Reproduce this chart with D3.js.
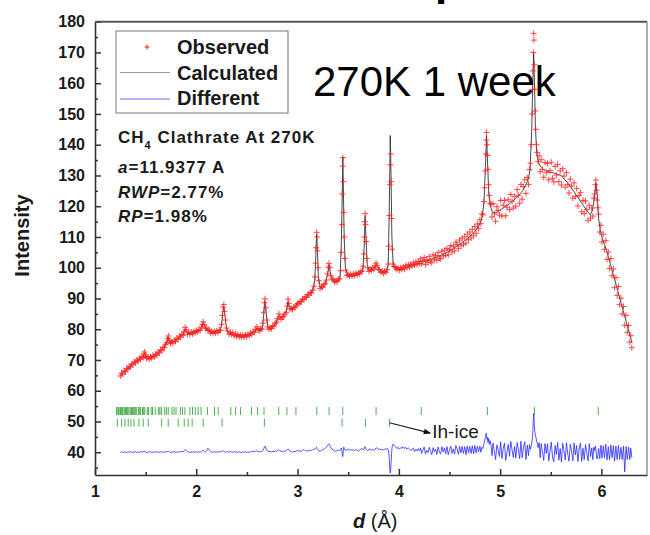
<!DOCTYPE html>
<html>
<head>
<meta charset="utf-8">
<script src="https://cdn.jsdelivr.net/npm/d3@7"></script>
<style>
  body { margin: 0; background: #fff; }
  svg { display: block; font-family: Arial, "Liberation Sans", sans-serif; }
</style>
</head>
<body>
<svg id="chart" width="650" height="535"></svg>
<script>
// measured points: d spacing (Angstrom)
var obsD = [
  1.250,1.263,1.275,1.288,1.300,1.313,1.325,1.338,1.350,1.363,
  1.375,1.388,1.400,1.413,1.425,1.438,1.450,1.463,1.475,1.483,
  1.490,1.498,1.510,1.523,1.535,1.548,1.560,1.573,1.585,1.598,
  1.610,1.623,1.635,1.648,1.660,1.673,1.685,1.698,1.710,1.718,
  1.725,1.733,1.745,1.758,1.770,1.783,1.795,1.808,1.820,1.833,
  1.845,1.858,1.870,1.880,1.890,1.900,1.913,1.925,1.938,1.950,
  1.963,1.975,1.988,2.000,2.013,2.025,2.038,2.050,2.060,2.068,
  2.078,2.090,2.103,2.115,2.128,2.140,2.153,2.165,2.178,2.190,
  2.203,2.215,2.228,2.240,2.250,2.258,2.265,2.272,2.279,2.288,
  2.298,2.310,2.323,2.335,2.348,2.360,2.373,2.385,2.398,2.410,
  2.423,2.435,2.448,2.460,2.473,2.485,2.498,2.510,2.523,2.535,
  2.548,2.560,2.573,2.585,2.598,2.610,2.623,2.635,2.648,2.658,
  2.666,2.673,2.679,2.686,2.695,2.705,2.718,2.730,2.743,2.755,
  2.768,2.780,2.793,2.805,2.815,2.825,2.838,2.850,2.863,2.875,
  2.888,2.898,2.906,2.914,2.925,2.938,2.950,2.963,2.975,2.988,
  3.000,3.013,3.025,3.038,3.050,3.063,3.075,3.088,3.100,3.113,
  3.125,3.138,3.150,3.163,3.172,3.178,3.183,3.188,3.192,3.197,
  3.202,3.210,3.222,3.235,3.248,3.260,3.273,3.285,3.295,3.303,
  3.310,3.318,3.328,3.340,3.353,3.365,3.378,3.390,3.403,3.415,
  3.425,3.432,3.437,3.441,3.445,3.448,3.452,3.456,3.461,3.467,
  3.475,3.488,3.500,3.513,3.525,3.538,3.550,3.563,3.575,3.588,
  3.600,3.613,3.625,3.638,3.648,3.655,3.660,3.664,3.668,3.672,
  3.677,3.683,3.692,3.705,3.718,3.730,3.743,3.755,3.765,3.775,
  3.785,3.798,3.810,3.823,3.835,3.848,3.860,3.873,3.885,3.895,
  3.902,3.907,3.911,3.915,3.919,3.923,3.928,3.934,3.942,3.955,
  3.968,3.980,3.993,4.005,4.018,4.030,4.043,4.055,4.068,4.080,
  4.093,4.105,4.118,4.130,4.143,4.155,4.168,4.180,4.193,4.205,
  4.215,4.225,4.238,4.250,4.263,4.275,4.288,4.300,4.313,4.325,
  4.338,4.350,4.363,4.375,4.388,4.400,4.413,4.425,4.438,4.450,
  4.463,4.475,4.488,4.500,4.513,4.525,4.538,4.550,4.563,4.575,
  4.588,4.600,4.613,4.625,4.638,4.650,4.663,4.675,4.688,4.700,
  4.713,4.725,4.738,4.750,4.763,4.775,4.788,4.800,4.810,4.820,
  4.830,4.840,4.847,4.853,4.858,4.862,4.866,4.870,4.875,4.880,
  4.886,4.893,4.900,4.910,4.920,4.930,4.943,4.955,4.968,4.980,
  4.993,5.005,5.018,5.030,5.043,5.055,5.068,5.080,5.093,5.105,
  5.118,5.130,5.143,5.155,5.168,5.180,5.193,5.205,5.218,5.230,
  5.243,5.255,5.268,5.280,5.290,5.300,5.308,5.315,5.320,5.324,
  5.328,5.331,5.334,5.337,5.341,5.346,5.352,5.358,5.366,5.375,
  5.385,5.395,5.405,5.418,5.430,5.443,5.455,5.468,5.480,5.493,
  5.505,5.518,5.530,5.543,5.555,5.568,5.580,5.593,5.605,5.618,
  5.630,5.643,5.655,5.668,5.680,5.693,5.705,5.718,5.730,5.743,
  5.755,5.768,5.780,5.793,5.805,5.818,5.830,5.843,5.855,5.868,
  5.880,5.893,5.905,5.915,5.925,5.933,5.940,5.946,5.952,5.958,
  5.965,5.973,5.983,5.995,6.005,6.018,6.030,6.043,6.055,6.068,
  6.080,6.093,6.105,6.118,6.130,6.143,6.155,6.168,6.180,6.193,
  6.205,6.218,6.230,6.243,6.255,6.268,6.280,6.290,6.300
];

var observed = [
  64.8,65.7,65.4,66.5,66.2,67.3,67.0,68.0,67.7,68.7,
  68.4,69.4,69.1,70.0,69.6,70.6,70.2,71.1,70.8,72.0,
  72.6,71.6,70.5,71.0,70.3,71.1,70.6,71.5,71.0,71.9,
  71.5,72.6,72.3,73.3,73.0,74.2,74.0,75.1,75.6,77.0,
  77.8,76.4,75.4,76.0,75.5,76.5,76.0,77.0,76.7,77.8,
  77.4,78.4,78.0,79.3,80.6,79.8,78.4,79.0,78.3,79.1,
  78.5,79.3,78.8,79.6,79.1,79.9,79.6,80.7,81.6,82.4,
  81.5,80.2,80.4,79.6,79.9,78.7,79.3,78.7,79.4,78.8,
  79.5,78.9,79.8,79.6,81.6,84.5,87.2,88.0,85.8,83.0,
  80.4,79.4,78.4,79.0,78.3,78.9,77.9,78.5,77.7,78.3,
  77.5,78.2,77.4,78.1,77.5,78.2,77.6,78.4,77.9,78.8,
  78.3,79.2,79.0,80.0,80.8,79.8,79.5,80.2,80.0,82.0,
  85.5,88.6,89.9,87.0,83.0,80.8,80.0,80.5,80.2,81.1,
  81.0,82.0,82.3,83.5,85.0,84.0,83.2,84.0,84.1,84.9,
  85.5,87.5,89.8,88.4,86.6,86.8,86.4,87.2,87.0,87.9,
  88.4,88.2,89.1,88.9,89.8,89.6,90.6,90.4,91.3,91.1,
  92.0,91.8,92.7,94.0,97.0,101.5,106.5,111.5,110.0,105.5,
  100.0,95.8,93.2,93.9,93.6,94.6,94.8,96.0,98.0,100.2,
  101.4,100.0,97.5,96.3,96.0,95.4,95.8,95.4,96.3,96.4,
  99.0,105.0,114.0,124.0,133.0,135.8,128.0,118.0,110.0,103.0,
  99.2,97.5,97.8,97.2,97.9,97.3,98.0,97.5,98.2,97.7,
  98.4,98.0,98.8,98.9,100.5,104.5,110.0,115.0,117.6,114.0,
  108.5,103.0,100.0,98.8,99.5,99.1,100.0,99.6,100.6,101.5,
  100.8,99.4,99.3,98.5,98.9,98.2,98.8,98.5,99.4,101.2,
  107.0,117.0,127.0,133.5,137.0,128.0,116.0,106.0,101.2,100.4,
  100.0,99.4,99.9,99.2,100.0,99.4,100.3,99.6,100.7,100.0,
  101.0,100.2,101.2,100.5,101.6,100.8,101.9,101.0,102.1,101.4,
  102.9,101.2,102.4,103.3,101.1,102.6,101.7,103.6,102.2,101.6,
  104.2,102.8,104.0,102.4,104.9,103.1,102.9,105.4,103.8,105.7,
  104.0,106.3,104.2,105.9,107.2,105.1,107.0,105.5,108.3,107.6,
  106.2,109.0,107.1,109.6,107.6,110.1,108.0,110.9,109.1,111.6,
  109.7,112.5,110.4,113.4,111.2,114.2,112.7,115.6,114.3,117.5,
  117.2,121.5,126.0,131.5,137.0,141.5,144.0,140.0,136.5,132.0,
  127.0,123.5,121.0,120.7,116.5,120.8,117.5,115.1,119.8,118.6,
  117.1,121.9,116.8,120.3,121.9,116.9,119.7,122.1,118.9,123.8,
  121.6,119.4,123.2,120.0,125.4,123.6,121.0,127.0,122.3,126.4,
  128.6,124.2,129.3,127.1,131.9,134.0,140.0,150.0,158.0,164.0,
  170.0,176.2,174.0,166.0,158.0,151.0,145.0,140.0,137.5,134.5,
  136.4,131.2,135.1,132.0,129.4,134.2,130.9,133.9,128.6,131.6,
  134.3,129.1,127.9,132.9,130.1,133.6,128.0,131.5,126.9,132.2,
  129.8,126.2,130.9,127.0,124.3,128.8,126.5,122.6,127.6,123.2,
  125.8,120.1,123.5,124.4,118.2,121.9,117.6,121.7,118.9,115.4,
  120.3,116.1,119.4,116.8,122.6,124.0,127.0,128.5,125.2,122.0,
  119.5,117.4,111.6,113.8,108.4,110.9,106.0,108.8,102.7,105.1,
  99.8,103.0,97.4,99.6,93.5,96.8,91.0,93.9,88.0,90.1,
  85.0,87.4,81.3,84.5,79.0,81.2,75.8,77.9,74.0
];

// observed - calculated, plotted around an offset of 40
var difference = [
  40.0,40.1,39.9,40.2,40.0,39.8,40.1,40.0,40.2,39.9,
  40.1,40.0,40.2,39.9,40.1,40.0,40.2,40.0,40.1,40.3,
  40.4,40.1,39.9,40.1,40.0,40.2,39.9,40.1,40.0,40.2,
  40.0,40.1,39.9,40.2,40.0,40.1,40.0,40.2,40.1,40.3,
  40.4,40.1,39.9,40.1,40.0,40.2,40.0,40.1,40.0,40.2,
  40.1,40.3,40.2,40.5,40.9,40.6,40.2,40.1,39.9,40.1,
  40.0,40.2,40.0,40.2,40.0,40.1,40.0,40.3,40.5,40.6,
  40.4,40.1,40.5,41.3,40.7,40.3,40.1,40.0,40.2,40.0,
  40.1,40.0,40.2,40.1,40.2,40.4,40.5,40.3,40.1,40.0,
  40.2,40.1,40.0,40.3,40.1,40.0,40.2,40.0,40.1,40.0,
  40.2,40.0,39.9,40.1,40.0,40.2,39.9,40.1,40.0,40.2,
  40.1,40.3,40.2,40.4,40.5,40.2,40.1,40.3,40.2,40.6,
  41.2,41.8,42.0,41.4,40.8,40.4,40.2,40.3,40.1,40.3,
  40.2,40.4,40.3,40.6,40.9,40.5,40.3,40.2,40.4,40.3,
  40.5,40.8,41.1,40.8,40.4,40.2,40.1,40.3,40.2,40.5,
  40.6,40.3,40.5,40.2,40.7,40.9,40.5,40.3,40.6,40.4,
  40.7,40.5,40.9,41.0,41.1,41.3,41.5,41.6,41.2,40.9,
  40.7,40.5,40.3,40.6,40.8,41.0,41.3,41.7,42.2,42.6,
  42.7,42.2,41.5,41.0,40.7,40.4,40.3,40.5,40.7,40.5,
  40.9,41.4,40.6,39.2,38.6,39.0,40.8,41.7,41.3,40.8,
  40.6,40.8,41.0,40.7,40.9,40.6,40.8,40.5,40.9,40.6,
  40.4,40.8,41.0,41.2,41.0,40.8,41.2,41.7,41.8,41.3,
  41.0,40.7,40.6,40.8,41.0,40.7,41.0,40.6,41.0,41.5,
  41.2,40.9,41.1,40.8,41.0,40.7,41.1,40.9,41.3,40.8,
  39.5,37.0,34.5,33.2,34.0,36.5,39.5,41.8,42.6,42.2,
  41.8,41.2,41.6,41.0,41.5,41.3,41.8,41.2,41.6,41.0,
  41.4,41.1,40.6,40.9,41.3,40.2,41.0,40.4,41.2,40.5,
  41.4,39.6,40.8,41.7,39.4,40.6,39.9,41.6,40.3,39.2,
  41.5,40.2,41.0,39.3,41.7,40.0,39.4,41.8,40.1,41.4,
  39.5,41.8,39.2,40.7,42.0,39.6,41.1,39.4,42.2,41.0,
  39.3,41.9,39.8,41.9,39.6,41.8,39.2,42.0,39.8,41.9,
  39.6,42.1,39.5,42.2,39.8,41.9,40.2,42.0,40.0,41.6,
  41.2,42.8,43.6,44.8,45.6,46.2,45.5,44.2,44.8,43.2,
  44.5,42.6,43.8,42.4,38.9,43.0,40.2,37.6,42.4,40.9,
  38.6,43.4,38.0,41.2,43.0,37.4,40.0,42.6,38.7,43.5,
  40.8,38.3,41.9,38.1,43.2,41.0,37.9,43.6,38.2,41.7,
  43.4,37.6,42.3,38.9,42.5,41.0,42.2,43.6,45.0,47.5,
  50.5,52.6,51.8,49.0,47.2,46.0,45.1,44.0,43.0,41.5,
  43.1,38.2,42.8,40.0,37.3,42.8,39.6,42.7,37.2,40.4,
  43.3,38.1,36.9,42.2,39.3,43.2,37.4,41.2,36.8,42.9,
  40.6,37.5,43.1,39.4,37.1,42.6,40.5,37.2,43.0,39.1,
  42.2,37.0,41.1,43.0,37.0,41.3,37.6,42.5,40.0,37.2,
  42.8,38.6,41.4,37.6,41.6,40.5,42.0,41.0,38.5,37.8,
  39.3,41.2,37.9,42.3,38.1,42.1,38.2,42.6,37.5,41.8,
  37.6,42.4,38.2,42.1,37.1,42.0,37.6,42.2,37.7,41.6,
  37.6,42.0,33.6,41.9,37.7,41.7,37.6,41.3,38.2
];

// refined profile (d spacing and intensity)
var calcD = [
  1.250,1.275,1.300,1.325,1.350,1.375,1.400,1.425,1.450,1.475,
  1.490,1.510,1.535,1.560,1.585,1.610,1.635,1.660,1.685,1.705,
  1.720,1.735,1.760,1.785,1.810,1.840,1.870,1.890,1.910,1.940,
  1.970,2.000,2.030,2.055,2.070,2.090,2.115,2.140,2.170,2.200,
  2.230,2.250,2.262,2.272,2.285,2.300,2.325,2.350,2.380,2.410,
  2.440,2.470,2.500,2.530,2.555,2.580,2.600,2.625,2.650,2.665,
  2.677,2.690,2.705,2.730,2.760,2.790,2.815,2.840,2.865,2.890,
  2.905,2.920,2.945,2.970,3.000,3.030,3.060,3.090,3.120,3.150,
  3.170,3.180,3.188,3.196,3.205,3.225,3.250,3.275,3.300,3.312,
  3.325,3.350,3.375,3.400,3.420,3.432,3.440,3.447,3.453,3.460,
  3.472,3.495,3.520,3.545,3.570,3.600,3.625,3.645,3.658,3.667,
  3.675,3.688,3.710,3.735,3.760,3.778,3.800,3.825,3.850,3.875,
  3.895,3.905,3.915,3.923,3.931,3.945,3.970,4.000,4.025,4.050,
  4.075,4.100,4.130,4.160,4.190,4.215,4.240,4.270,4.300,4.330,
  4.360,4.390,4.420,4.450,4.480,4.510,4.540,4.570,4.600,4.630,
  4.660,4.690,4.720,4.750,4.775,4.800,4.820,4.840,4.855,4.866,
  4.876,4.888,4.905,4.925,4.950,4.975,5.000,5.025,5.050,5.075,
  5.100,5.125,5.150,5.175,5.200,5.225,5.250,5.275,5.295,5.312,
  5.322,5.331,5.339,5.348,5.362,5.380,5.400,5.425,5.450,5.475,
  5.500,5.525,5.550,5.575,5.600,5.625,5.650,5.675,5.700,5.725,
  5.750,5.775,5.800,5.825,5.850,5.870,5.890,5.910,5.930,5.946,
  5.958,5.972,5.990,6.010,6.030,6.050,6.070,6.090,6.110,6.130,
  6.150,6.170,6.190,6.210,6.230,6.250,6.270,6.285,6.300
];

var calculated = [
  65.0,65.8,66.6,67.3,68.0,68.8,69.4,70.0,70.4,71.0,
  72.0,70.8,70.4,70.8,71.2,71.8,72.6,73.4,74.4,75.4,
  77.4,76.0,75.6,76.2,76.8,77.8,78.4,80.0,78.8,78.5,
  78.8,79.2,79.6,80.6,82.0,80.6,79.4,79.0,78.9,79.0,
  79.4,81.5,85.5,87.4,84.0,80.0,78.8,78.4,78.1,77.9,
  77.8,77.8,77.9,78.2,78.8,79.5,80.4,79.6,80.0,84.5,
  89.2,85.5,81.0,80.0,81.0,82.4,84.4,83.6,84.4,86.0,
  89.0,87.2,86.4,87.2,88.2,89.0,89.8,90.8,91.6,92.5,
  96.0,104,111,106,97,93.4,93.8,95.0,98.5,101.0,
  97.8,96.0,95.5,95.8,97.0,108,122,136,124,110,
  100,97.5,97.4,97.4,97.6,98.0,98.3,99.5,107,117,
  110,101,99.0,99.3,99.8,101.0,99.6,98.5,98.4,98.8,
  101,118,143,130,110,100.5,99.8,99.5,99.6,99.8,
  100.1,100.4,100.8,101.1,101.4,102.0,101.9,102.2,102.5,102.9,
  103.3,103.7,104.1,104.6,105.1,105.7,106.3,107.0,107.6,108.3,
  109.1,109.9,110.8,111.8,112.9,114.2,116.4,121,133,143,
  134,124,120,118,117.8,118.2,118.8,119.3,119.9,120.4,
  121.0,121.7,122.4,123.2,124.1,125.2,126.6,128.5,131.5,145,
  160,170,160,146,137,134,132.8,132.0,131.5,131.2,
  131.0,130.8,130.6,130.3,130.0,129.2,128.2,127.2,126.1,124.9,
  123.7,122.5,121.3,120.1,118.9,118.0,117.2,118.5,122.5,127.5,
  124.0,116.0,112.0,109.4,107.5,105.6,103.3,101.0,98.6,96.2,
  93.8,91.4,89.0,86.6,84.2,81.8,79.4,77.6,75.5
];

// reflection positions (d, Angstrom)
var clathrateTicks = [
  5.969,5.339,4.874,4.221,3.775,3.446,3.311,3.190,2.984,2.895,
  2.814,2.669,2.605,2.545,2.437,2.388,2.341,2.217,2.180,2.110,
  2.047,2.018,1.990,1.963,1.937,1.888,1.864,1.842,1.800,1.780,
  1.760,1.723,1.705,1.688,1.655,1.640,1.625,1.595,1.568,1.554,
  1.528,1.516,1.492,1.481,1.469,1.448,1.437,1.427,1.407,1.397,
  1.388,1.378,1.369,1.360,1.352,1.335,1.326,1.318,1.310,1.303,
  1.295,1.287,1.273,1.265,1.258,1.251,1.238,1.231,1.218,1.212
];
var iceTicks = [
  3.907,3.670,3.440,2.672,2.255,2.068,1.959,1.920,1.881,1.821,
  1.723,1.658,1.526,1.476,1.434,1.385,1.355,1.328,1.296,1.263,1.220
];

var xTicks = [1, 2, 3, 4, 5, 6];
var xMinorTicks = [1.5, 2.5, 3.5, 4.5, 5.5];
var yTicks = [40, 50, 60, 70, 80, 90, 100, 110, 120, 130, 140, 150, 160, 170, 180];
var yMinorTicks = [35, 45, 55, 65, 75, 85, 95, 105, 115, 125, 135, 145, 155, 165, 175];

var legendLabels = ["Observed", "Calculated", "Different"];

var measured = obsD.map(function (d, i) {
  return { d: d, obs: observed[i], diff: difference[i] };
});
var refined = calcD.map(function (d, i) {
  return { d: d, calc: calculated[i] };
});

var svg = d3.select("#chart");
var plotLeft = 95, plotRight = 647, plotTop = 21.7, plotBottom = 475;

var x = d3.scaleLinear().domain([1, 6.45]).range([plotLeft, plotRight]);
var y = d3.scaleLinear().domain([32.6, 180]).range([plotBottom, plotTop]);

// cut-off slide title above the chart
svg.append("text")
  .attr("x", 435).attr("y", -5)
  .style("font-size", "44px").style("font-weight", "bold")
  .text("p");

var defs = svg.append("defs");
defs.append("clipPath").attr("id", "plotClip")
  .append("rect")
  .attr("x", plotLeft).attr("y", plotTop)
  .attr("width", plotRight - plotLeft).attr("height", plotBottom - plotTop);

var plot = svg.append("g").attr("clip-path", "url(#plotClip)");

// reflection markers
plot.append("g").selectAll("line").data(clathrateTicks).enter().append("line")
  .attr("x1", function (d) { return x(d); }).attr("x2", function (d) { return x(d); })
  .attr("y1", y(54.7)).attr("y2", y(52.1))
  .attr("stroke", "#4fae4f").attr("stroke-width", 1);

plot.append("g").selectAll("line").data(iceTicks).enter().append("line")
  .attr("x1", function (d) { return x(d); }).attr("x2", function (d) { return x(d); })
  .attr("y1", y(50.9)).attr("y2", y(48.3))
  .attr("stroke", "#4fae4f").attr("stroke-width", 1);

// difference curve
plot.append("path")
  .datum(measured)
  .attr("fill", "none")
  .attr("stroke", "#2a2aff")
  .attr("stroke-width", 0.8)
  .attr("d", d3.line()
    .x(function (p) { return x(p.d); })
    .y(function (p) { return y(p.diff); }));

// calculated profile
plot.append("path")
  .datum(refined)
  .attr("fill", "none")
  .attr("stroke", "#333")
  .attr("stroke-width", 0.9)
  .attr("d", d3.line()
    .x(function (p) { return x(p.d); })
    .y(function (p) { return y(p.calc); }));

// observed points as red crosses
plot.append("g").selectAll("path").data(measured).enter().append("path")
  .attr("transform", function (p) { return "translate(" + x(p.d) + "," + y(p.obs) + ")"; })
  .attr("d", "M-3,0H3M0,-3V3")
  .attr("stroke", "#ff1a1a")
  .attr("stroke-width", 1)
  .attr("opacity", 0.8);

// axes
svg.append("g").attr("transform", "translate(0," + plotBottom + ")")
  .call(d3.axisBottom(x).tickValues(xTicks).tickSizeInner(-6).tickSizeOuter(0)
    .tickPadding(11).tickFormat(d3.format("d")));
svg.append("g").attr("transform", "translate(0," + plotBottom + ")")
  .call(d3.axisBottom(x).tickValues(xMinorTicks).tickSizeInner(-3).tickSizeOuter(0).tickFormat(""))
  .select(".domain").remove();

svg.append("g").attr("transform", "translate(" + plotLeft + ",0)")
  .call(d3.axisLeft(y).tickValues(yTicks).tickSizeInner(-6).tickSizeOuter(0).tickPadding(10));
svg.append("g").attr("transform", "translate(" + plotLeft + ",0)")
  .call(d3.axisLeft(y).tickValues(yMinorTicks).tickSizeInner(-3).tickSizeOuter(0).tickFormat(""))
  .select(".domain").remove();

svg.selectAll(".domain").attr("stroke", "#333").attr("stroke-width", 1.6);
svg.selectAll(".tick line").attr("stroke", "#333").attr("stroke-width", 1.5);
svg.selectAll(".tick text")
  .attr("fill", "#1a1a1a")
  .style("font-size", "16px").style("font-weight", "bold")
  .style("font-family", "Arial, 'Liberation Sans', sans-serif");

// frame top and right
svg.append("line").attr("x1", plotLeft).attr("x2", plotRight).attr("y1", plotTop).attr("y2", plotTop)
  .attr("stroke", "#555").attr("stroke-width", 2);
svg.append("line").attr("x1", plotRight).attr("x2", plotRight).attr("y1", plotTop).attr("y2", plotBottom)
  .attr("stroke", "#777").attr("stroke-width", 1.2);

// axis titles
svg.append("text")
  .attr("transform", "translate(29,235.5) rotate(-90)")
  .attr("text-anchor", "middle")
  .style("font-size", "20px").style("font-weight", "bold")
  .attr("fill", "#1a1a1a")
  .text("Intensity");

var xTitle = svg.append("text").attr("x", 353).attr("y", 528)
  .style("font-size", "20px").attr("fill", "#1a1a1a");
xTitle.append("tspan").style("font-weight", "bold").style("font-style", "italic").text("d");
xTitle.append("tspan").text(" (\u00c5)");

// legend
var legend = svg.append("g");
legend.append("rect")
  .attr("x", 116).attr("y", 31).attr("width", 172).attr("height", 82)
  .attr("fill", "#fff").attr("stroke", "#777").attr("stroke-width", 1);
legend.append("path")
  .attr("transform", "translate(147,47)")
  .attr("d", "M-2.5,0H2.5M0,-2.5V2.5")
  .attr("stroke", "#ff1a1a").attr("stroke-width", 1);
legend.append("line").attr("x1", 120).attr("x2", 170).attr("y1", 72.5).attr("y2", 72.5)
  .attr("stroke", "#999").attr("stroke-width", 1);
legend.append("line").attr("x1", 120).attr("x2", 170).attr("y1", 99).attr("y2", 99)
  .attr("stroke", "#6b6bff").attr("stroke-width", 1);
legend.selectAll("text.lab").data(legendLabels).enter().append("text")
  .attr("class", "lab")
  .attr("x", 177)
  .attr("y", function (d, i) { return 54.3 + i * 25.4; })
  .style("font-size", "20px").style("font-weight", "bold")
  .attr("fill", "#1a1a1a")
  .text(function (d) { return d; });

// refinement notes
var notes = svg.append("g")
  .style("font-size", "17px").style("font-weight", "bold")
  .style("letter-spacing", "1px")
  .attr("fill", "#1a1a1a");
var t1 = notes.append("text").attr("x", 118).attr("y", 142.5);
t1.append("tspan").text("CH");
t1.append("tspan").attr("dy", 6).style("font-size", "11px").text("4");
t1.append("tspan").attr("dy", -6).text(" Clathrate At 270K");

var t2 = notes.append("text").attr("x", 118).attr("y", 173);
t2.append("tspan").style("font-style", "italic").text("a");
t2.append("tspan").text("=11.9377 A");

var t3 = notes.append("text").attr("x", 118).attr("y", 197.5);
t3.append("tspan").style("font-style", "italic").text("RWP");
t3.append("tspan").text("=2.77%");

var t4 = notes.append("text").attr("x", 118).attr("y", 222);
t4.append("tspan").style("font-style", "italic").text("RP");
t4.append("tspan").text("=1.98%");

// big label
svg.append("text")
  .attr("x", 313).attr("y", 96)
  .style("font-size", "42px")
  .attr("fill", "#000")
  .text("270K 1 week");

// Ih-ice arrow
defs.append("marker")
  .attr("id", "arrowHead")
  .attr("viewBox", "0 0 10 10").attr("refX", 9).attr("refY", 5)
  .attr("markerWidth", 7).attr("markerHeight", 6).attr("orient", "auto")
  .append("path").attr("d", "M0,1L10,5L0,9Z").attr("fill", "#111");
svg.append("line")
  .attr("x1", x(3.907)).attr("y1", y(49.6))
  .attr("x2", x(4.31)).attr("y2", y(46.2))
  .attr("stroke", "#222").attr("stroke-width", 1.2)
  .attr("marker-end", "url(#arrowHead)");
svg.append("text")
  .attr("x", x(4.33)).attr("y", y(44.6))
  .style("font-size", "19px")
  .attr("fill", "#1a1a1a")
  .text("Ih-ice");
</script>
</body>
</html>
